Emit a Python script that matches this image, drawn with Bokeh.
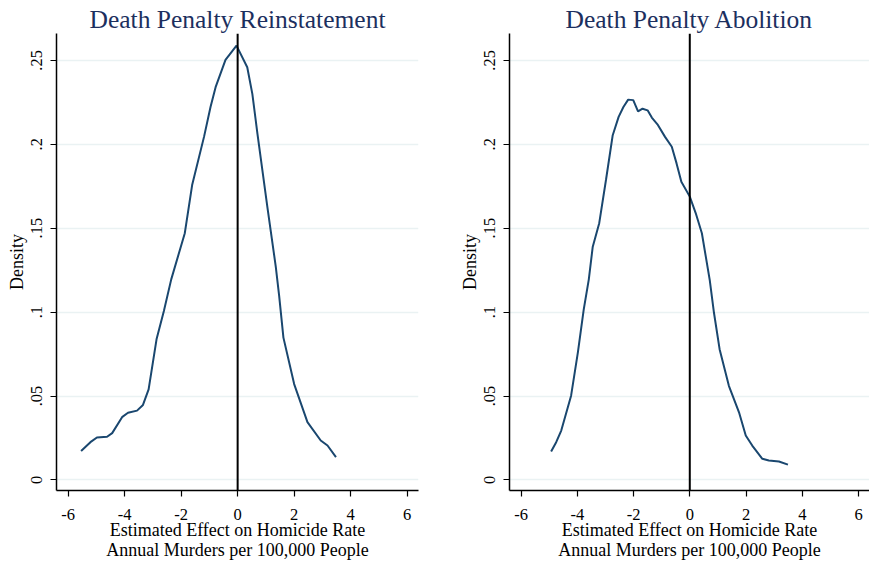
from bokeh.plotting import figure
from bokeh.layouts import row
from bokeh.models import Span, FixedTicker
from bokeh.embed import file_html
from bokeh.resources import INLINE

# Left panel: Death Penalty Reinstatement (kernel density estimate)
reinst_x = [-5.54, -5.21, -4.98, -4.62, -4.44, -4.09, -3.88, -3.56, -3.35, -3.15,
            -2.87, -2.61, -2.35, -1.87, -1.61, -1.19, -0.96, -0.78, -0.43, -0.04,
            0.34, 0.52, 0.70, 1.05, 1.35, 1.47, 1.62, 2.00, 2.47, 2.94, 3.18, 3.48]
reinst_y = [0.0172, 0.0225, 0.0253, 0.0257, 0.0279, 0.0374, 0.0400, 0.0413, 0.0447, 0.0540,
            0.0838, 0.1006, 0.1195, 0.1470, 0.1757, 0.2044, 0.2222, 0.2340, 0.2503, 0.2588,
            0.2459, 0.2300, 0.2064, 0.1629, 0.1270, 0.1095, 0.0848, 0.0571, 0.0344, 0.0235, 0.0205, 0.0136]

# Right panel: Death Penalty Abolition
abol_x = [-4.93, -4.75, -4.57, -4.22, -3.98, -3.77, -3.59, -3.45, -3.22, -2.98,
          -2.74, -2.53, -2.36, -2.19, -2.01, -1.84, -1.68, -1.50, -1.35, -1.15,
          -0.88, -0.64, -0.47, -0.30, 0.00, 0.21, 0.43, 0.71, 0.86, 1.06,
          1.39, 1.75, 1.99, 2.22, 2.58, 2.81, 3.17, 3.49]
abol_y = [0.0170, 0.0225, 0.0294, 0.0502, 0.0759, 0.1016, 0.1195, 0.1390, 0.1530, 0.1787,
          0.2054, 0.2163, 0.2222, 0.2266, 0.2263, 0.2196, 0.2212, 0.2202, 0.2159, 0.2119,
          0.2044, 0.1985, 0.1886, 0.1777, 0.1688, 0.1590, 0.1470, 0.1190, 0.0996, 0.0779,
          0.0561, 0.0403, 0.0265, 0.0205, 0.0126, 0.0116, 0.0110, 0.0091]

x_ticks = [-6, -4, -2, 0, 2, 4, 6]
y_ticks = [0, 0.05, 0.1, 0.15, 0.2, 0.25]
y_tick_labels = {0: "0", 0.05: ".05", 0.1: ".1", 0.15: ".15", 0.2: ".2", 0.25: ".25"}

titles = ["Death Penalty Reinstatement", "Death Penalty Abolition"]
x_label = "Estimated Effect on Homicide Rate\nAnnual Murders per 100,000 People"
y_label = "Density"

FONT = "Liberation Serif"
LINE_COLOR = "#1a476f"
TITLE_COLOR = "#1c2f5e"
GRID_COLOR = "#eaf2f3"


def make_panel(title, xs, ys, width, mbl, mbr, x_end):
    p = figure(width=width, height=562, x_range=(-6.41, x_end), y_range=(-0.0063, 0.266),
               output_backend="svg", toolbar_location=None,
               min_border_left=mbl, min_border_right=mbr, min_border_top=33, min_border_bottom=70)
    p.title.text = title
    p.title.align = "center"
    p.title.text_font = FONT
    p.title.text_font_size = "25.5px"
    p.title.text_font_style = "normal"
    p.title.text_color = TITLE_COLOR
    p.title.standoff = 0
    p.title.offset = 0
    p.outline_line_color = None
    p.background_fill_color = "white"
    p.border_fill_color = "white"

    p.line(xs, ys, line_color=LINE_COLOR, line_width=2)
    p.add_layout(Span(location=0, dimension="height", line_color="black", line_width=2))

    p.xgrid.visible = False
    p.ygrid.grid_line_color = GRID_COLOR
    p.ygrid.grid_line_width = 1.5

    for ax in (p.xaxis[0], p.yaxis[0]):
        ax.axis_line_color = "black"
        ax.axis_line_width = 1.5
        ax.major_tick_line_color = "black"
        ax.major_tick_line_width = 1.2
        ax.major_tick_in = 0
        ax.major_tick_out = 6
        ax.minor_tick_line_color = None
        ax.major_label_text_font = FONT
        ax.major_label_text_font_size = "16.5px"
        ax.major_label_text_color = "black"
        ax.axis_label_text_font = FONT
        ax.axis_label_text_font_size = "18px"
        ax.axis_label_text_font_style = "normal"
        ax.axis_label_text_color = "black"

    p.xaxis.ticker = FixedTicker(ticks=x_ticks)
    p.xaxis.major_label_overrides = {t: str(t) for t in x_ticks}
    p.xaxis.axis_label = x_label
    p.xaxis.axis_label_text_line_height = 1.0
    p.xaxis.major_label_standoff = 12
    p.xaxis.axis_label_standoff = -3

    p.yaxis.ticker = FixedTicker(ticks=y_ticks)
    p.yaxis.major_label_overrides = y_tick_labels
    p.yaxis.major_label_orientation = "vertical"
    p.yaxis.axis_label = y_label
    p.yaxis.major_label_standoff = 8
    p.yaxis.axis_label_standoff = 2
    return p


p1 = make_panel(titles[0], reinst_x, reinst_y, 456, 56, 38, 6.40)
p2 = make_panel(titles[1], abol_x, abol_y, 413, 52, 0, 6.39)

layout = row(p1, p2)
open("out.html", "w").write(file_html(layout, INLINE))
